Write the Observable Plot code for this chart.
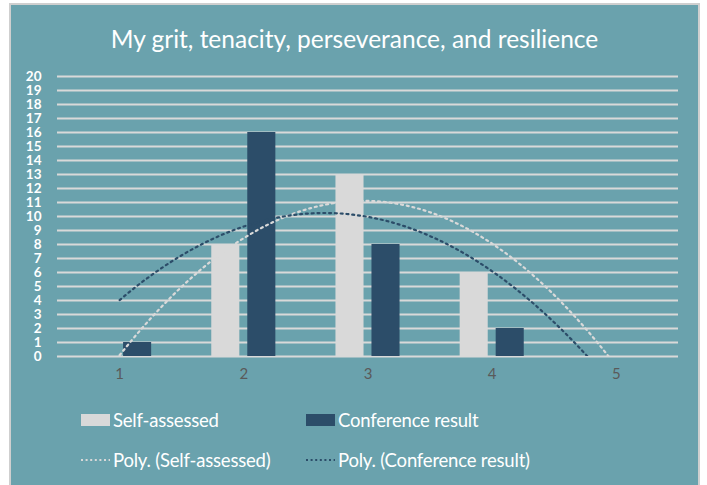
<!DOCTYPE html>
<html><head><meta charset="utf-8">
<script src="https://cdn.jsdelivr.net/npm/d3@7"></script>
<script src="https://cdn.jsdelivr.net/npm/@observablehq/plot@0.6"></script>
<style>
body{margin:0;background:#fff;font-family:Lato,"Open Sans",sans-serif;}
#frame{position:absolute;left:11px;top:5px;width:687px;height:480px;background:#6aa2ad;box-shadow:0 0 0 2px #cfcfcf;overflow:hidden;}
#title{position:absolute;left:0;top:19px;width:687px;text-align:center;color:#fff;font-size:24.5px;line-height:30px;}
#chart{position:absolute;left:0;top:62px;}
.leg{position:absolute;display:flex;align-items:center;color:#fff;font-size:18.5px;line-height:20px;letter-spacing:-0.2px;}
.leg svg{margin-right:3px;}
</style></head>
<body>
<div id="frame">
  <div id="title">My grit, tenacity, perseverance, and resilience</div>
  <div id="chart"></div>
  <div id="legend"></div>
</div>
<script>
const categories = [1, 2, 3, 4, 5];
const selfAssessed = [0, 8, 13, 6, 0];
const conference = [1, 16, 8, 2, 0];
const yTicks = [0,1,2,3,4,5,6,7,8,9,10,11,12,13,14,15,16,17,18,19,20];
const seriesNames = ["Self-assessed", "Conference result"];
const trendNames = ["Poly. (Self-assessed)", "Poly. (Conference result)"];
const colors = {self: "#d9d9d9", conf: "#2c4d69"};

// bar geometry (in category units)
const barW = 0.226, gap = 0.032;

const bars = categories.flatMap((c, i) => [
  {x: c, v: selfAssessed[i], s: "self"},
  {x: c, v: conference[i], s: "conf"}
]);

// order-2 polynomial least-squares fit (Excel "Poly." trendline)
function polyFit(xs, ys) {
  let S = [0,0,0,0,0], T = [0,0,0];
  xs.forEach((x, i) => {
    for (let k = 0; k < 5; k++) S[k] += x ** k;
    for (let k = 0; k < 3; k++) T[k] += ys[i] * x ** k;
  });
  const A = [[S[0],S[1],S[2],T[0]],[S[1],S[2],S[3],T[1]],[S[2],S[3],S[4],T[2]]];
  for (let i = 0; i < 3; i++) {
    for (let j = i + 1; j < 3; j++) {
      const f = A[j][i] / A[i][i];
      for (let k = i; k < 4; k++) A[j][k] -= f * A[i][k];
    }
  }
  const c = [0,0,0];
  for (let i = 2; i >= 0; i--) {
    let s = A[i][3];
    for (let k = i + 1; k < 3; k++) s -= A[i][k] * c[k];
    c[i] = s / A[i][i];
  }
  return x => c[0] + c[1] * x + c[2] * x * x;
}
const fSelf = polyFit(categories, selfAssessed);
const fConf = polyFit(categories, conference);
const xs = d3.range(1, 5.0001, 0.02);
const trendSelf = xs.map(x => ({x, y: fSelf(x)}));
const trendConf = xs.map(x => ({x, y: fConf(x)}));

const plot = Plot.plot({
  width: 687, height: 330,
  marginLeft: 46, marginRight: 20, marginTop: 9, marginBottom: 41,
  style: {background: "transparent", fontFamily: "Lato, 'Open Sans', sans-serif", overflow: "visible"},
  x: {type: "linear", domain: [0.5, 5.5]},
  y: {domain: [0, 20]},
  marks: [
    Plot.ruleY(yTicks, {stroke: "#d9d9d9", strokeWidth: 2}),
    Plot.rectY(bars.filter(d => d.s === "self"), {x1: d => d.x - gap - barW, x2: d => d.x - gap, y: "v", fill: colors.self}),
    Plot.rectY(bars.filter(d => d.s === "conf"), {x1: d => d.x + gap, x2: d => d.x + gap + barW, y: "v", fill: colors.conf}),
    Plot.line(trendSelf, {x: "x", y: "y", stroke: colors.self, strokeWidth: 2.2, strokeDasharray: "2,3.8", clip: true}),
    Plot.line(trendConf, {x: "x", y: "y", stroke: colors.conf, strokeWidth: 2.2, strokeDasharray: "2,3.8", clip: true}),
    Plot.axisY(yTicks, {tickSize: 0, tickPadding: 5, color: "#ffffff", fontSize: 13.5, fontWeight: 700, label: null, dx: -11}),
    Plot.axisX(categories, {tickSize: 0, tickPadding: 12, color: "#5a5a5a", fontSize: 15, label: null, tickFormat: d => String(d)})
  ]
});
document.getElementById("chart").appendChild(plot);

// legend
const legend = document.getElementById("legend");
const items = [
  {name: seriesNames[0], kind: "rect", color: colors.self, left: 70, top: 405},
  {name: seriesNames[1], kind: "rect", color: colors.conf, left: 295, top: 405},
  {name: trendNames[0], kind: "dot", color: colors.self, left: 70, top: 445},
  {name: trendNames[1], kind: "dot", color: colors.conf, left: 295, top: 445}
];
for (const it of items) {
  const d = document.createElement("div");
  d.className = "leg";
  d.style.left = it.left + "px";
  d.style.top = it.top + "px";
  const sw = it.kind === "rect"
    ? `<svg width="29" height="12"><rect width="29" height="12" fill="${it.color}"/></svg>`
    : `<svg width="29" height="12"><line x1="0" x2="29" y1="6" y2="6" stroke="${it.color}" stroke-width="2" stroke-dasharray="2,2.6"/></svg>`;
  d.innerHTML = sw + `<span>${it.name}</span>`;
  legend.appendChild(d);
}
</script>
</body></html>
